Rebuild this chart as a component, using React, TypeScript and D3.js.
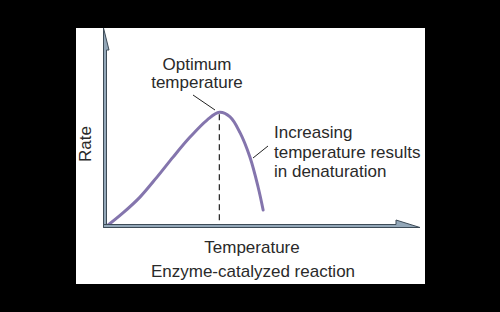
import React from "react";
import * as d3 from "d3";

// Curve (temperature vs rate, arbitrary units 0-100)
const temps = [1, 5.7, 11.1, 16.5, 21.6, 27.0, 32.4, 36.3, 39.7, 42.9, 46.0, 48.6, 50.2];
const rates = [0.5, 6.6, 14.6, 24.7, 34.8, 44.9, 53.5, 57.4, 55.1, 47.0, 34.8, 19.7, 8.1];
const optimumTemp = 36.3;
const optimumRate = 57.4;

const xLabel = "Temperature";
const yLabel = "Rate";
const caption = "Enzyme-catalyzed reaction";
const optimumLabel = ["Optimum", "temperature"];
const denatureLabel = ["Increasing", "temperature results", "in denaturation"];

export default function App() {
  const W = 500, H = 312;
  const x = d3.scaleLinear().domain([0, 100]).range([105, 420]);
  const y = d3.scaleLinear().domain([0, 100]).range([226, 28]);
  const pts: [number, number][] = temps.map((t, i) => [x(t), y(rates[i])]);
  const line = d3.line().curve(d3.curveCatmullRom.alpha(0.5))(pts) || "";
  const font = "'Liberation Sans', Arial, Helvetica, sans-serif";
  const textColor = "#2a2a2a";
  const ox = x(0), oy = y(0);
  const px = x(optimumTemp), py = y(optimumRate);

  // axis shapes (tube-like with a half arrowhead)
  const yAxisPath = `M${ox - 1.5},${oy + 1.5} L${ox - 1.5},${y(100) + 22} L${ox - 1.5},${y(100)} L${ox + 4},${y(100) + 22} L${ox + 1.5},${y(100) + 22} L${ox + 1.5},${oy + 1.5} Z`;
  const xAxisPath = `M${ox - 1.5},${oy - 1.5} L${x(100) - 24},${oy - 1.5} L${x(100) - 24},${oy - 6} L${x(100)},${oy + 1.5} L${ox - 1.5},${oy + 1.5} Z`;

  return (
    <svg
      width={W}
      height={H}
      style={{ position: "fixed", left: 0, top: 0, display: "block" }}
    >
      <rect x={0} y={0} width={W} height={H} fill="#000" />
      <rect x={76} y={28} width={349} height={256} fill="#fff" />
      {/* dashed optimum line */}
      <line x1={px} y1={py + 2} x2={px} y2={oy - 2} stroke="#222" strokeWidth={1.2} strokeDasharray="6,4" />
      {/* curve */}
      <path d={line} fill="none" stroke="#8475ad" strokeWidth={3} strokeLinecap="round" />
      {/* axes */}
      <path d={yAxisPath} fill="#93a7b8" stroke="#3d4b57" strokeWidth={1} strokeLinejoin="miter" />
      <path d={xAxisPath} fill="#93a7b8" stroke="#3d4b57" strokeWidth={1} strokeLinejoin="miter" />
      {/* leader lines */}
      <line x1={193} y1={95} x2={215} y2={110} stroke="#222" strokeWidth={1} />
      <line x1={253} y1={158} x2={268} y2={146} stroke="#222" strokeWidth={1} />
      {/* annotations */}
      <g fontFamily={font} fontSize={17} fill={textColor}>
        <text x={197} y={70} textAnchor="middle">{optimumLabel[0]}</text>
        <text x={197} y={88} textAnchor="middle">{optimumLabel[1]}</text>
        {denatureLabel.map((s, i) => (
          <text key={i} x={274} y={138 + i * 19.5}>{s}</text>
        ))}
        <text x={252} y={253} textAnchor="middle">{xLabel}</text>
        <text x={253} y={277} textAnchor="middle">{caption}</text>
        <text transform={`translate(91,144) rotate(-90)`} textAnchor="middle">{yLabel}</text>
      </g>
    </svg>
  );
}
